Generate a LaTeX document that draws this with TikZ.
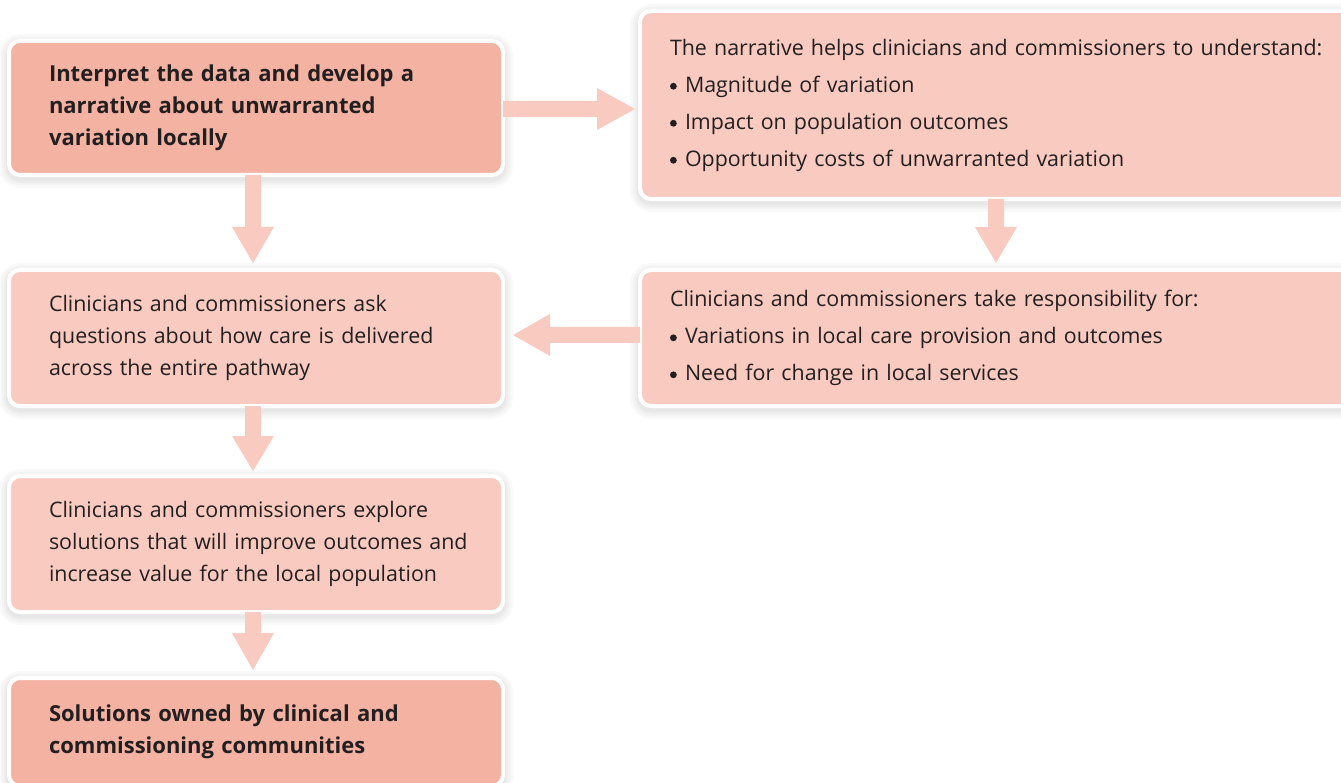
\documentclass[tikz,border=0pt]{standalone}
\usepackage{fontspec}
\setmainfont{Open Sans}
\definecolor{boldfill}{HTML}{F4B2A2}
\definecolor{lightfill}{HTML}{F9CAC0}
\definecolor{txt}{HTML}{231F20}
\newcommand\bul{\makebox[15pt][l]{\raisebox{2.4pt}{\tikz\fill[txt] (0,0) circle (3.4pt);}}}
\tikzset{
  basebox/.style={draw=white, line width=4pt, rounded corners=11pt, anchor=north west, outer sep=0pt,
    inner xsep=40pt, inner ysep=0pt, align=left, text=txt,
    preaction={draw=black, draw opacity=0.022, line width=20pt, fill=none, transform canvas={yshift=-3pt}},
    preaction={draw=black, draw opacity=0.022, line width=15pt, fill=none, transform canvas={yshift=-3pt}},
    preaction={draw=black, draw opacity=0.022, line width=10pt, fill=none, transform canvas={yshift=-3pt}},
    preaction={draw=black, draw opacity=0.022, line width=6pt, fill=none, transform canvas={yshift=-3pt}}},
  boldbox/.style={basebox, fill=boldfill, font=\fontsize{22}{32}\selectfont\bfseries},
  lbox/.style={basebox, fill=lightfill, font=\fontsize{21.4}{32}\selectfont},
  rbox/.style={basebox, fill=lightfill, font=\fontsize{21.4}{37}\selectfont, inner xsep=29pt},
  blockarrow/.style={fill=lightfill, draw=none}
}
\begin{document}
\begin{tikzpicture}[x=1pt,y=-1pt]
\useasboundingbox (0,0) rectangle (1341,783);
% boxes
\node[boldbox, minimum width=494, minimum height=134, text width=414] (b1) at (9,41)
 {\mbox{Interpret the data and develop a}\\\mbox{narrative about unwarranted}\\\mbox{variation locally}};
\node[rbox, minimum width=740, minimum height=188, text width=680] (r1) at (640,11)
 {\mbox{The narrative helps clinicians and commissioners to understand:}\\
  \bul Magnitude of variation\\
  \bul Impact on population outcomes\\
  \bul Opportunity costs of unwarranted variation};
\node[lbox, minimum width=494, minimum height=136, text width=414] (b2) at (9,270)
 {\mbox{Clinicians and commissioners ask}\\\mbox{questions about how care is delivered}\\\mbox{across the entire pathway}};
\node[rbox, minimum width=740, minimum height=136, text width=680] (r2) at (640,270)
 {Clinicians and commissioners take responsibility for:\\
  \bul Variations in local care provision and outcomes\\
  \bul Need for change in local services};
\node[lbox, minimum width=494, minimum height=136, text width=414] (b3) at (9,476)
 {\mbox{Clinicians and commissioners explore}\\\mbox{solutions that will improve outcomes and}\\\mbox{increase value for the local population}};
\node[boldbox, minimum width=494, minimum height=108, text width=414] (b4) at (9,678)
 {\mbox{Solutions owned by clinical and}\\\mbox{commissioning communities}};
% b1 -> r1 (right)
\fill[blockarrow] (b1.east |- 0,101) -- (597,101) -- (597,88) -- (635,109) -- (597,130) -- (597,117) -- (b1.east |- 0,117) -- cycle;
% r1 -> r2 (down)
\fill[blockarrow] (988,0 |- r1.south) -- (988,227) -- (975,227) -- (996,263) -- (1017,227) -- (1004,227) -- (1004,0 |- r1.south) -- cycle;
% r2 -> b2 (left)
\fill[blockarrow] (r2.west |- 0,327) -- (550,327) -- (550,314) -- (513,335) -- (550,356) -- (550,343) -- (r2.west |- 0,343) -- cycle;
% b1 -> b2
\fill[blockarrow] (245,0 |- b1.south) -- (245,227) -- (232,227) -- (253,263) -- (274,227) -- (261,227) -- (261,0 |- b1.south) -- cycle;
% b2 -> b3
\fill[blockarrow] (245,0 |- b2.south) -- (245,436) -- (232,436) -- (253,471) -- (274,436) -- (261,436) -- (261,0 |- b2.south) -- cycle;
% b3 -> b4
\fill[blockarrow] (245,0 |- b3.south) -- (245,633) -- (232,633) -- (253,670) -- (274,633) -- (261,633) -- (261,0 |- b3.south) -- cycle;
\end{tikzpicture}
\end{document}
